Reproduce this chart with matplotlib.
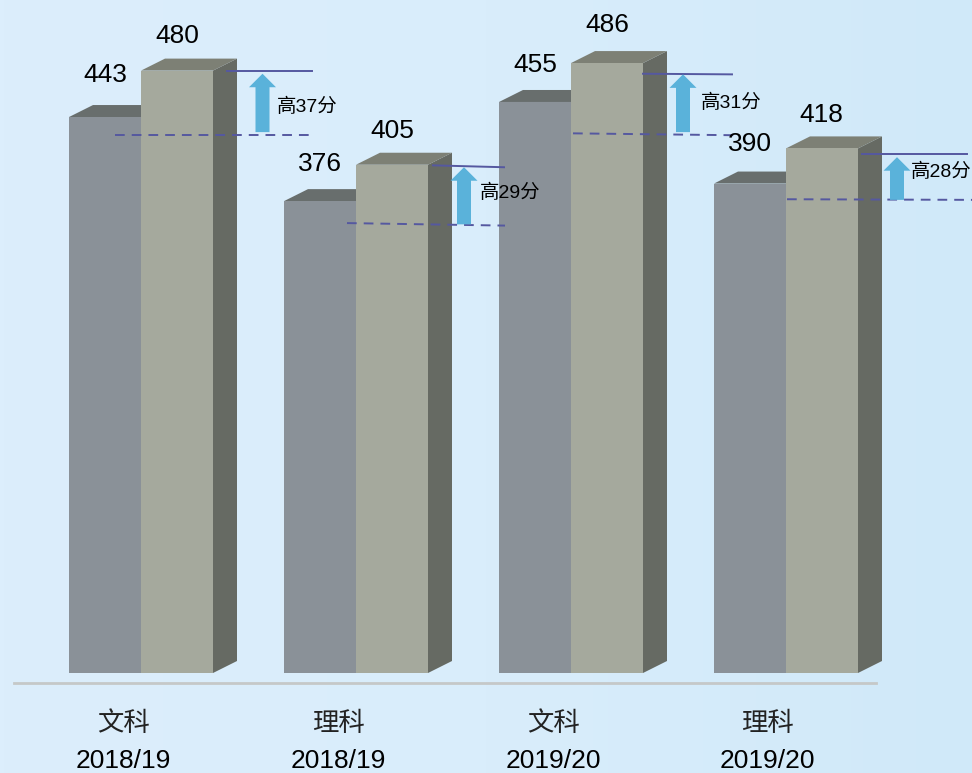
import numpy as np
import matplotlib
matplotlib.use('Agg')
import matplotlib.pyplot as plt
from matplotlib.colors import LinearSegmentedColormap

plt.rcParams['font.family'] = ['Liberation Sans', 'Noto Sans CJK SC', 'DejaVu Sans']

subjects = ['文科', '理科', '文科', '理科']
years = ['2018/19', '2018/19', '2019/20', '2019/20']
grey_vals = [443, 376, 455, 390]
sage_vals = [480, 405, 486, 418]
diff_labels = ['高37分', '高29分', '高31分', '高28分']

# reference lines, value at left and right end
solid_left = [479.5, 404.5, 477.5, 413.5]
solid_right = [479.5, 403.0, 477.0, 413.5]
dash_left = [428.5, 358.5, 430.0, 377.5]
dash_right = [428.5, 356.5, 428.5, 377.0]

px = 1.255  # pixels per score point
base_y = 673
left = [69, 284, 499, 714]
bar_w = 72
dx = 24
dy = 12 / px

solid_x = [(227, 312), (433, 504), (643, 732), (862, 967)]
dash_x = [(115, 315), (347, 505), (573, 735), (787, 972)]
arrow_x = [262.5, 464, 683, 897]
arrow_top = [477.5, 403, 477, 411]
arrow_bot = [431, 357.5, 431, 377]
grey_lab = [(105, 75), (320, 164), (535, 65), (750, 144)]
sage_lab = [(177, 36), (392, 131), (607, 25), (821, 115)]
diff_lab = [(307, 107), (510, 193), (731, 103), (941, 172)]
cat_x = [123, 338, 553, 767]

fig = plt.figure(figsize=(9.72, 7.73), dpi=100)
ax = fig.add_axes([0, 0, 1, 1])
ax.set_xlim(0, 972)
ax.set_ylim(-(773 - base_y) / px, base_y / px)
ax.axis('off')


def py(y):
    return (base_y - y) / px


# background
cmap = LinearSegmentedColormap.from_list('bg', ['#dceefc', '#d9edfb', '#d0e9f9'])
grad = np.linspace(0, 1, 256).reshape(1, -1)
ax.imshow(grad, cmap=cmap, extent=[0, 972, py(773), py(0)], aspect='auto', zorder=0)

for i in range(4):
    x0 = left[i]
    x1 = x0 + bar_w
    x2 = x1 + bar_w
    g = grey_vals[i]
    s = sage_vals[i]
    # grey bar top, then front
    ax.fill([x0, x0 + dx, x1 + dx, x1], [g, g + dy, g + dy, g], color='#686e6d', lw=0, zorder=2)
    ax.bar(x0, g, width=bar_w, align='edge', color='#8a9198', linewidth=0, zorder=3)
    # sage bar side and top
    ax.fill([x2, x2 + dx, x2 + dx, x2], [0, dy, s + dy, s], color='#666a63', lw=0, zorder=4)
    ax.fill([x1, x1 + dx, x2 + dx, x2], [s, s + dy, s + dy, s], color='#7d8075', lw=0, zorder=4)
    ax.bar(x1, s, width=bar_w, align='edge', color='#a5a99d', linewidth=0, zorder=5)

    ax.plot(solid_x[i], [solid_left[i], solid_right[i]], color='#5558a0', lw=1.4, zorder=6)
    ax.plot(dash_x[i], [dash_left[i], dash_right[i]], color='#5558a0', lw=1.4,
            dashes=(5, 3.6), zorder=6)

    # arrow
    ac = arrow_x[i]
    head_h = 13.5 / px
    ax.fill([ac - 7, ac - 7, ac - 13.5, ac, ac + 13.5, ac + 7, ac + 7],
            [arrow_bot[i], arrow_top[i] - head_h, arrow_top[i] - head_h, arrow_top[i],
             arrow_top[i] - head_h, arrow_top[i] - head_h, arrow_bot[i]],
            color='#5ab2da', lw=0, zorder=7)

    ax.text(grey_lab[i][0], py(grey_lab[i][1]), str(g), fontsize=19, ha='center', va='center', color='#000000', zorder=8)
    ax.text(sage_lab[i][0], py(sage_lab[i][1]), str(s), fontsize=19, ha='center', va='center', color='#000000', zorder=8)
    ax.text(diff_lab[i][0], py(diff_lab[i][1]), diff_labels[i], fontsize=14, ha='center', va='center', color='#000000', zorder=8)

    ax.text(cat_x[i], py(724), subjects[i], fontsize=19, ha='center', va='center', color='#222222')
    ax.text(cat_x[i], py(761), years[i], fontsize=19, ha='center', va='center', color='#000000')

# baseline
ax.plot([14, 876], [py(683), py(683)], color='#c5c8c8', lw=2, zorder=1)

fig.savefig('out.png', dpi=100)
